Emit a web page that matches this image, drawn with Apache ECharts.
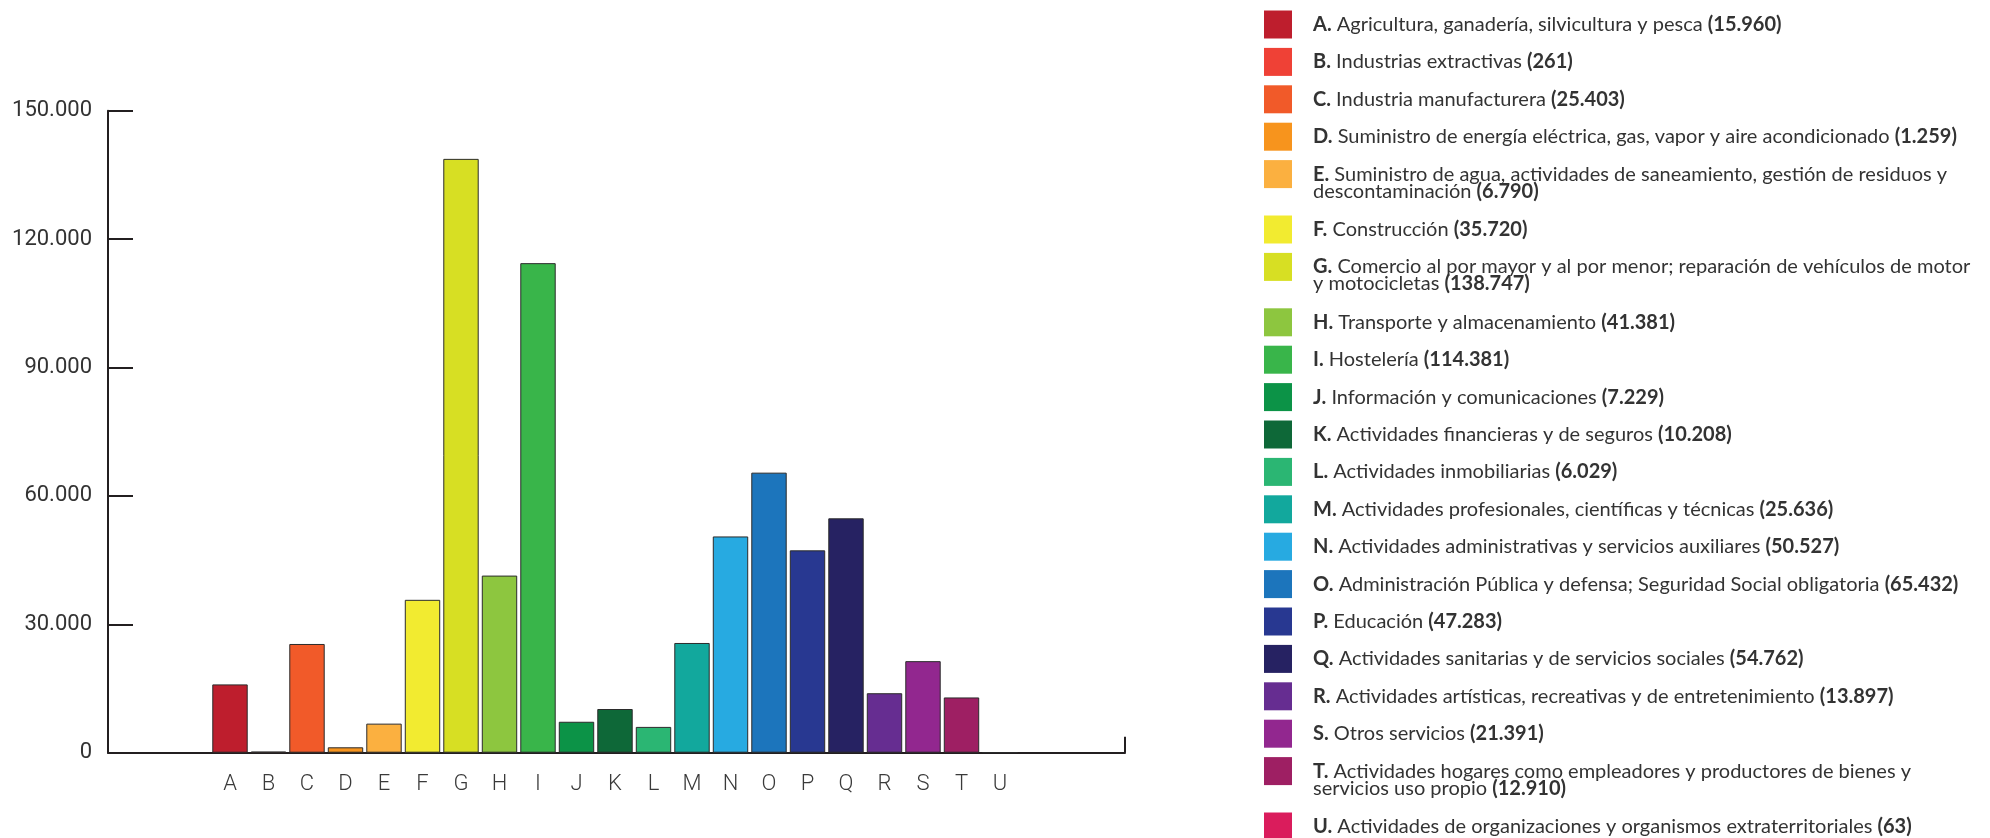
<!DOCTYPE html>
<html>
<head>
<meta charset="utf-8">
<script src="https://cdn.jsdelivr.net/npm/echarts@6/dist/echarts.min.js"></script>
<style>
  html, body { margin: 0; padding: 0; background: #fff; }
  #chart { width: 1990px; height: 838px; }
</style>
</head>
<body>
<div id="chart"></div>
<script>
// secciones CNAE
const letters = ["A", "B", "C", "D", "E", "F", "G", "H", "I", "J", "K", "L", "M", "N", "O", "P", "Q", "R", "S", "T", "U"];
const sectors = [
  "Agricultura, ganadería, silvicultura y pesca",
  "Industrias extractivas",
  "Industria manufacturera",
  "Suministro de energía eléctrica, gas, vapor y aire acondicionado",
  "Suministro de agua, actividades de saneamiento, gestión de residuos y\ndescontaminación",
  "Construcción",
  "Comercio al por mayor y al por menor; reparación de vehículos de motor\ny motocicletas",
  "Transporte y almacenamiento",
  "Hostelería",
  "Información y comunicaciones",
  "Actividades financieras y de seguros",
  "Actividades inmobiliarias",
  "Actividades profesionales, científicas y técnicas",
  "Actividades administrativas y servicios auxiliares",
  "Administración Pública y defensa; Seguridad Social obligatoria",
  "Educación",
  "Actividades sanitarias y de servicios sociales",
  "Actividades artísticas, recreativas y de entretenimiento",
  "Otros servicios",
  "Actividades hogares como empleadores y productores de bienes y\nservicios uso propio",
  "Actividades de organizaciones y organismos extraterritoriales"
];
const workers = [15960, 261, 25403, 1259, 6790, 35720, 138747, 41381, 114381, 7229, 10208,
  6029, 25636, 50527, 65432, 47283, 54762, 13897, 21391, 12910, 63];
const colors = ["#BE1E2D", "#EF4136", "#F15A29", "#F7941D", "#FBB040", "#F2EB30", "#D7DF23",
  "#8DC63F", "#39B54A", "#0C9347", "#0E6838", "#2BB673", "#12A89D", "#27AAE1", "#1C75BC",
  "#283891", "#262262", "#662D91", "#92278F", "#9E1F63", "#DA1C5C"];
const yMax = 150000;
const yStep = 30000;

const fmt = (n) => String(n).replace(/\B(?=(\d{3})+(?!\d))/g, ".");
const legendFont = "Lato, sans-serif";
const ink = "#231f20";
const txt = "#333";

const chart = echarts.init(document.getElementById("chart"));

// leyenda: una por sección para poder alinear las de dos líneas
let centerY = 24.5;
const legends = letters.map((l, i) => {
  const twoLines = sectors[i].includes("\n");
  const top = twoLines ? centerY - 25.5 : centerY - 14;
  centerY += 37.4 + (twoLines ? 18 : 0);
  return {
    data: [l],
    orient: "vertical",
    left: 1264,
    top: top,
    padding: 0,
    icon: "rect",
    itemWidth: 28,
    itemHeight: 28,
    itemStyle: { borderWidth: 0 },
    selectedMode: false,
    formatter: () => `{b|${l}.} {r|${sectors[i]}} {b|(${fmt(workers[i])})}`,
    textStyle: {
      fontFamily: legendFont,
      fontSize: 20,
      lineHeight: 17,
      color: txt,
      padding: twoLines ? [17, 0, 0, 16] : [0, 0, 0, 16],
      rich: {
        b: { fontFamily: legendFont, fontSize: 20, lineHeight: 17, fontWeight: "bold", color: txt },
        r: { fontFamily: legendFont, fontSize: 20, lineHeight: 17, fontWeight: "normal", color: txt }
      }
    }
  };
});

const option = {
  animation: false,
  backgroundColor: "#fff",
  legend: legends,
  grid: [
    // marco de ejes
    { left: 108, right: 865, top: 110.7, bottom: 85.3 },
    // barras
    { left: 210.75, right: 970.75, top: 110.7, bottom: 85.3 }
  ],
  xAxis: [
    {
      gridIndex: 0,
      type: "value",
      min: 0,
      max: 1,
      interval: 1,
      axisLine: { show: true, lineStyle: { color: ink, width: 2 } },
      axisTick: { show: true, inside: true, length: 16, lineStyle: { color: ink, width: 2 } },
      axisLabel: { show: false },
      splitLine: { show: false }
    },
    {
      gridIndex: 1,
      type: "category",
      data: letters,
      axisLine: { show: false },
      axisTick: { show: false },
      axisLabel: {
        margin: 21,
        fontFamily: "Roboto",
        fontWeight: 300,
        fontSize: 22,
        color: "#3a3a3a"
      }
    }
  ],
  yAxis: [
    {
      gridIndex: 0,
      type: "value",
      min: 0,
      max: yMax,
      interval: yStep,
      axisLine: { show: true, lineStyle: { color: ink, width: 2 } },
      axisTick: { show: true, inside: true, length: 25, lineStyle: { color: ink, width: 2 } },
      axisLabel: {
        margin: 16,
        fontFamily: "Roboto",
        fontSize: 22,
        color: txt,
        formatter: (v) => fmt(v)
      },
      splitLine: { show: false }
    },
    { gridIndex: 1, type: "value", min: 0, max: yMax, show: false }
  ],
  series: letters.map((l, i) => ({
    name: l,
    type: "bar",
    stack: "total",
    xAxisIndex: 1,
    yAxisIndex: 1,
    barCategoryGap: "8%",
    itemStyle: { color: colors[i], borderColor: "#2b2b2b", borderWidth: 1 },
    data: workers.map((v, j) => (j === i ? v : "-"))
  }))
};

chart.setOption(option);
</script>
</body>
</html>
